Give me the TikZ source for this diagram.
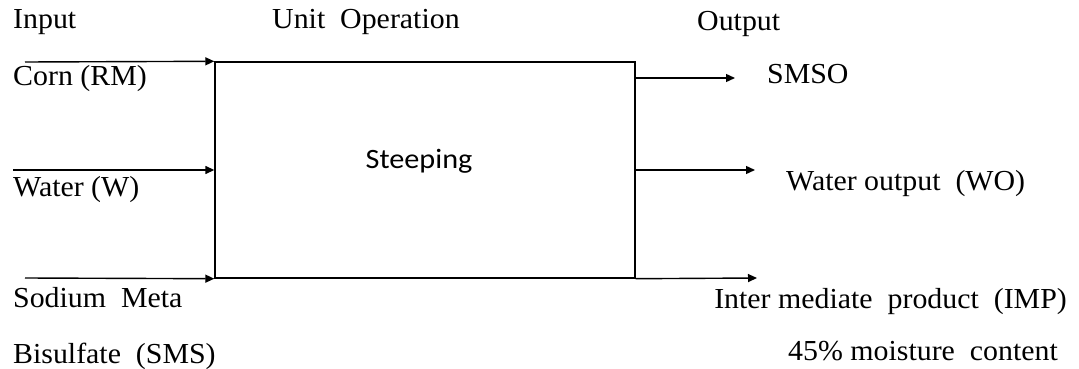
\documentclass[tikz,border=0pt]{standalone}
\usepackage{fontspec}
\setmainfont{Liberation Serif}[FakeStretch=1.03]
\newfontfamily\stepfont{Carlito}[FakeStretch=1.08]
\usepackage{tikz}
\usetikzlibrary{arrows.meta, positioning}

\begin{document}
\begin{tikzpicture}[
    x=1pt, y=-1pt,
    flow/.style={-{Triangle[length=9pt,width=8pt]}, line width=1.4pt},
    lbl/.style={inner sep=0pt, anchor=base west, font=\fontsize{29}{34}\selectfont},
    rlbl/.style={lbl, anchor=base east},
    unitbox/.style={draw, line width=1.4pt, minimum width=420pt,
                    minimum height=216pt, inner sep=0pt}
  ]
  \useasboundingbox (0,0) rectangle (1079,369);

  % the unit operation
  \node[unitbox] (unit) at (425,170) {};
  \node[anchor=base, inner sep=0pt, font=\stepfont\fontsize{28}{32}\selectfont]
    (steep) at (419,168) {Steeping};

  % column headings
  \node[lbl] (hin) at (13,29) {Input};
  \node[lbl] (hunit) at (272,29) {Unit\ \ Operation};
  \node[lbl] (hout) at (697,31) {Output};

  % inputs
  \coordinate (cornin) at (25,62);
  \coordinate (waterin) at (13,170);
  \coordinate (smsin) at (25,278);
  \draw[flow] (cornin) -- (unit.north west);
  \draw[flow] (waterin) -- (unit.west);
  \draw[flow] (smsin) -- (unit.south west);

  \node[lbl] (corn) at (13,85) {Corn (RM)};
  \node[lbl] (water) at (13,196) {Water (W)};
  \node[lbl] (sms1) at (13,307) {Sodium\ \ Meta};
  \node[lbl] (sms2) at (13,363) {Bisulfate\ \ (SMS)};

  % outputs
  \coordinate (smsoend) at (735,78);
  \coordinate (woend) at (755,170);
  \coordinate (impend) at (757,278);
  \draw[flow] (unit.east |- smsoend) -- (smsoend);
  \draw[flow] (unit.east) -- (woend);
  \draw[flow] (unit.south east) -- (impend);

  \node[lbl] (smso) at (767,83) {SMSO};
  \node[lbl] (wo) at (786,190) {Water output\ \ (WO)};
  \node[rlbl] (imp1) at (1067,308) {Inter mediate\ \ product\ \ (IMP)};
  \node[rlbl] (imp2) at (1058,360) {45\% moisture\ \ content};
\end{tikzpicture}
\end{document}
